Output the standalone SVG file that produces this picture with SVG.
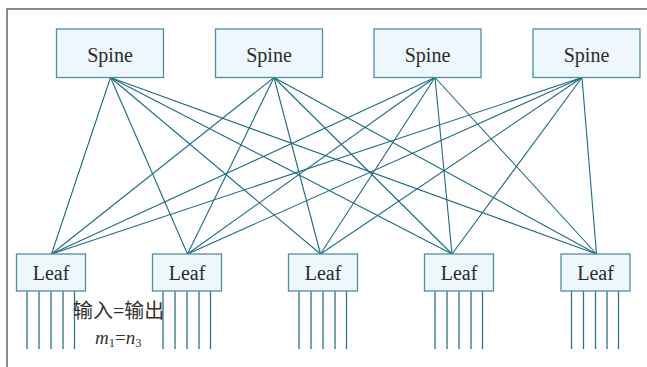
<svg xmlns="http://www.w3.org/2000/svg" width="647" height="367" viewBox="0 0 647 367">
  <style>
    .frame { fill: none; stroke: #5a5a5a; stroke-width: 1.4; }
    .box { fill: #eef7fc; stroke: #4f8fa3; stroke-width: 1.3; }
    .link { stroke: #1b6b85; stroke-width: 1.1; fill: none; }
    .port { stroke: #2a7590; stroke-width: 1.3; fill: none; }
    .label { font-family: 'Liberation Serif', 'Times New Roman', serif; font-size: 20px; fill: #2b2b2b; text-anchor: middle; }
    .note { font-family: 'Liberation Serif', 'Noto Sans CJK SC', serif; font-size: 20px; fill: #333; }
    .math { font-family: 'Liberation Serif', 'Times New Roman', serif; font-size: 19px; font-style: italic; fill: #333; }
  </style>

  <rect class="frame" x="7" y="9" width="660" height="380"/>

  <!-- spine-to-leaf full mesh -->
  <g id="connectors">
    <g class="link">
      <line x1="110.5" y1="77.5" x2="51.5" y2="254"/>
      <line x1="110.5" y1="77.5" x2="187.5" y2="254"/>
      <line x1="110.5" y1="77.5" x2="320.5" y2="254"/>
      <line x1="110.5" y1="77.5" x2="452" y2="254"/>
      <line x1="110.5" y1="77.5" x2="596.5" y2="254"/>
      <line x1="274" y1="77.5" x2="51.5" y2="254"/>
      <line x1="274" y1="77.5" x2="187.5" y2="254"/>
      <line x1="274" y1="77.5" x2="320.5" y2="254"/>
      <line x1="274" y1="77.5" x2="452" y2="254"/>
      <line x1="274" y1="77.5" x2="596.5" y2="254"/>
      <line x1="435" y1="77.5" x2="51.5" y2="254"/>
      <line x1="435" y1="77.5" x2="187.5" y2="254"/>
      <line x1="435" y1="77.5" x2="320.5" y2="254"/>
      <line x1="435" y1="77.5" x2="452" y2="254"/>
      <line x1="435" y1="77.5" x2="596.5" y2="254"/>
      <line x1="582" y1="77.5" x2="51.5" y2="254"/>
      <line x1="582" y1="77.5" x2="187.5" y2="254"/>
      <line x1="582" y1="77.5" x2="320.5" y2="254"/>
      <line x1="582" y1="77.5" x2="452" y2="254"/>
      <line x1="582" y1="77.5" x2="596.5" y2="254"/>
    </g>
    <!-- host-facing ports below each leaf -->
    <g class="port">
      <path d="M27 291V349M39 291V349M51 291V349M63 291V349M74.5 291V349"/>
      <path d="M163 291V349M175 291V349M187 291V349M199 291V349M210.5 291V349"/>
      <path d="M299 291V349M311 291V349M323 291V349M335 291V349M346.5 291V349"/>
      <path d="M435 291V349M447 291V349M459 291V349M471 291V349M482.5 291V349"/>
      <path d="M571.5 291V349M583.5 291V349M595.5 291V349M607 291V349M618.5 291V349"/>
    </g>
  </g>

  <g id="spine1"><rect class="box" x="56.5" y="29" width="107" height="48.5"/><text class="label" x="110" y="61.5">Spine</text></g>
  <g id="spine2"><rect class="box" x="215.5" y="29" width="107" height="48.5"/><text class="label" x="269" y="61.5">Spine</text></g>
  <g id="spine3"><rect class="box" x="374" y="29" width="107" height="48.5"/><text class="label" x="427.5" y="61.5">Spine</text></g>
  <g id="spine4"><rect class="box" x="533" y="29" width="107" height="48.5"/><text class="label" x="586.5" y="61.5">Spine</text></g>

  <g id="leaf1"><rect class="box" x="16.5" y="254" width="69" height="37"/><text class="label" x="51" y="280">Leaf</text></g>
  <g id="leaf2"><rect class="box" x="152.5" y="254" width="69" height="37"/><text class="label" x="187" y="280">Leaf</text></g>
  <g id="leaf3"><rect class="box" x="288.5" y="254" width="69" height="37"/><text class="label" x="323" y="280">Leaf</text></g>
  <g id="leaf4"><rect class="box" x="424.5" y="254" width="69" height="37"/><text class="label" x="459" y="280">Leaf</text></g>
  <g id="leaf5"><rect class="box" x="561" y="254" width="69" height="37"/><text class="label" x="595.5" y="280">Leaf</text></g>

  <g id="ratio-note">
    <text class="note" x="73" y="318">输入=输出</text>
    <text class="math" x="95" y="344">m<tspan font-size="12.5" font-style="normal" dy="3">1</tspan><tspan font-style="normal" dy="-3">=</tspan>n<tspan font-size="12.5" font-style="normal" dy="3">3</tspan></text>
  </g>
</svg>
